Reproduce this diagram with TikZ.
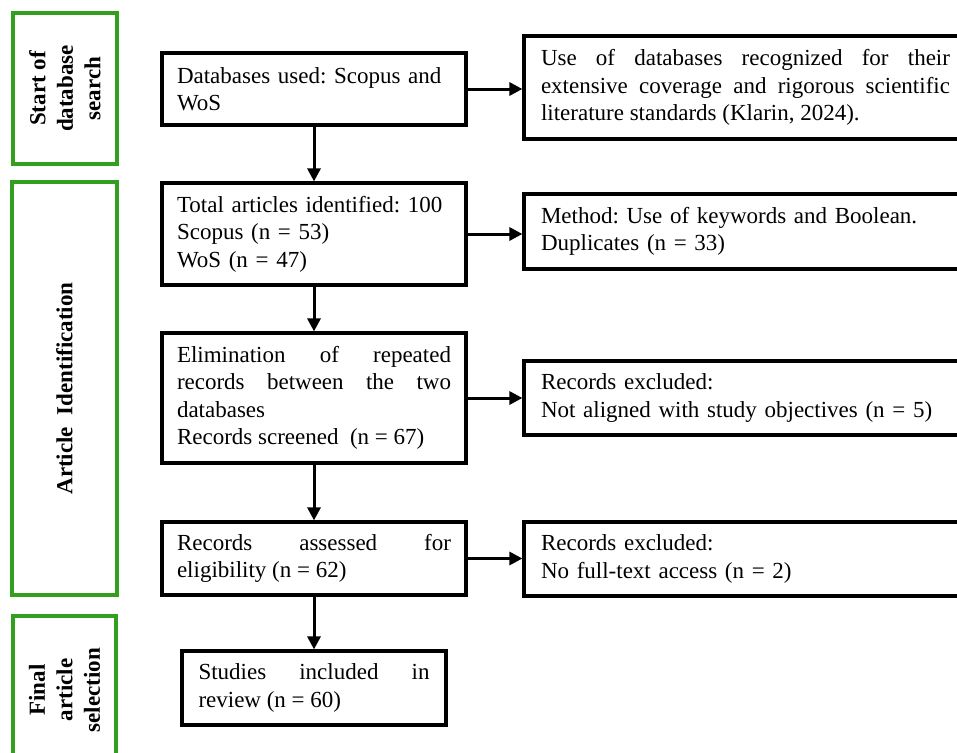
\documentclass[tikz,border=0pt]{standalone}
\usepackage{fontspec}
\setmainfont{Liberation Serif}
\usetikzlibrary{arrows.meta}
\definecolor{phasegreen}{RGB}{50,160,30}
\newcommand\figfont{\frenchspacing\fontsize{23}{27.5}\selectfont}
\tikzset{
  flowbox/.style={draw=black, line width=3.2pt, rectangle, font=\figfont, inner ysep=2pt},
  leftbox/.style={flowbox, text width=274pt, inner xsep=15pt, minimum width=304pt},
  rightbox/.style={flowbox, text width=409pt, inner xsep=17pt, minimum width=443pt, align=left},
  phasebox/.style={draw=phasegreen, line width=3.2pt, rectangle, rotate=90, align=center,
    font=\figfont\bfseries, inner sep=0pt},
  arr/.style={draw=black, line width=3pt, -{Triangle[length=13pt,width=13pt]}}
}
\begin{document}
\begin{tikzpicture}[x=1pt,y=-1pt]
\clip (0,0) rectangle (957,752);
\fill[white] (0,0) rectangle (957,752);
% phase boxes
\node[phasebox, minimum width=151pt, minimum height=104pt] (g1) at (65,88.5)
  {Start of\\database\\search};
\node[phasebox, minimum width=413pt, minimum height=105pt] (g2) at (64.5,388.5)
  {Article\ \ Identification};
\node[phasebox, minimum width=154pt, minimum height=103pt] (g3) at (64.5,693) {};
\node[font=\figfont\bfseries, rotate=90, align=center, inner sep=0pt] (g3t) at (64.5,690)
  {Final\\article\\selection};
% main column
\node[leftbox, align=left, minimum height=72pt] (a) at (314,89)
  {Databases used: Scopus and\\WoS};
\node[leftbox, align=left, minimum height=102pt] (b) at (314,234)
  {Total articles identified: 100\\Scopus (n = 53)\\WoS (n = 47)};
\node[leftbox, align=justify, minimum height=130pt] (c) at (314,398)
  {Elimination of repeated\linebreak records between the two\linebreak databases\\Records screened\ \ (n = 67)};
\node[leftbox, align=justify, minimum height=73pt] (d) at (314,558.5)
  {Records assessed for\linebreak eligibility (n = 62)};
\node[flowbox, align=justify, text width=231pt, inner xsep=16.5pt, minimum width=264pt, minimum height=74pt] (e) at (314,688)
  {Studies included in\linebreak review (n = 60)};
% right column
\node[rightbox, align=justify, minimum height=103pt] (r1) at (745.5,87.5)
  {Use of databases recognized for their\linebreak extensive coverage and rigorous scientific\linebreak literature standards (Klarin, 2024).};
\node[rightbox, minimum height=75pt] (r2) at (745.5,231.5)
  {Method: Use of keywords and Boolean.\\Duplicates (n = 33)};
\node[rightbox, minimum height=74pt] (r3) at (745.5,398)
  {Records excluded:\\Not aligned with study objectives (n = 5)};
\node[rightbox, minimum height=74pt] (r4) at (745.5,559)
  {Records excluded:\\No full-text access (n = 2)};
% connectors
\draw[arr] (a.south) -- (a.south |- b.north);
\draw[arr] (b.south) -- (b.south |- c.north);
\draw[arr] (c.south) -- (c.south |- d.north);
\draw[arr] (d.south) -- (d.south |- e.north);
\draw[arr] (a.east) -- (a.east -| r1.west);
\draw[arr] (b.east) -- (b.east -| r2.west);
\draw[arr] (c.east) -- (c.east -| r3.west);
\draw[arr] (d.east) -- (d.east -| r4.west);
\end{tikzpicture}
\end{document}
